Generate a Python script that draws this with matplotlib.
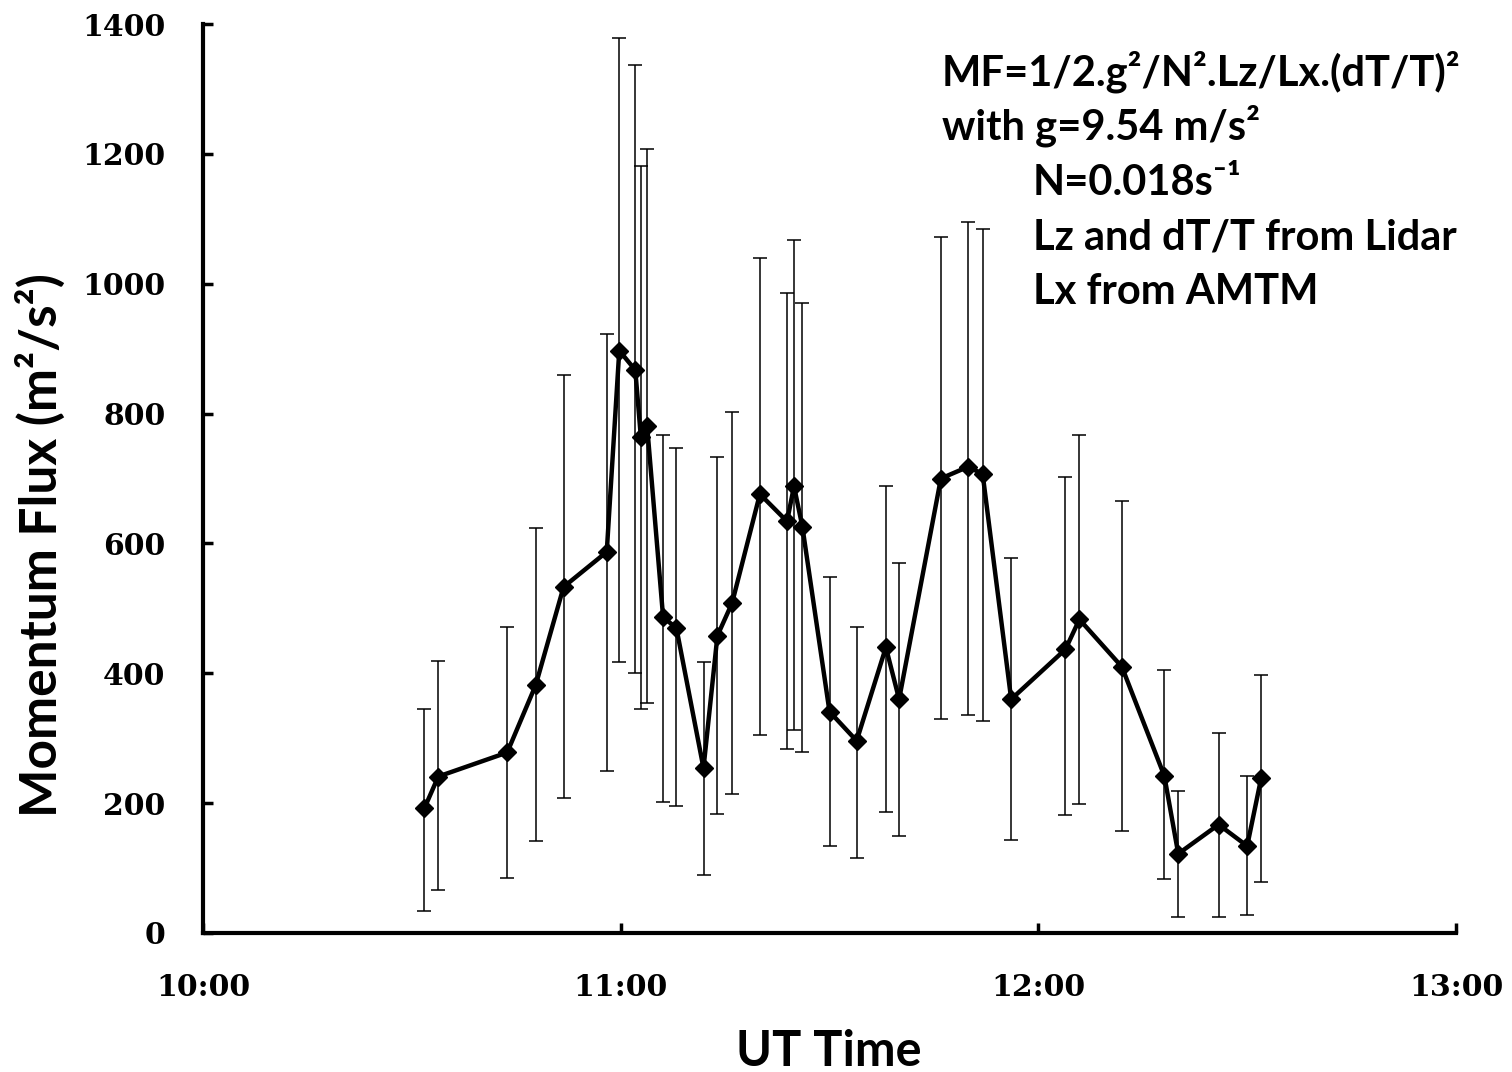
import matplotlib
matplotlib.use("Agg")
import matplotlib.pyplot as plt
import numpy as np

# time in minutes after 10:00 UT
time_min = [31.8, 33.8, 43.7, 47.8, 51.8, 58.0, 59.8, 62.1, 62.9, 63.8, 66.1, 68.0,
            71.9, 73.9, 76.0, 80.0, 83.9, 84.9, 86.1, 90.0, 93.9, 98.1, 100.0,
            106.0, 109.9, 112.0, 116.1, 123.9, 125.9, 132.0, 138.1, 140.1, 145.9,
            150.0, 152.0]
flux = [192, 241, 278, 382, 533, 587, 897, 867, 764, 781, 486, 470, 254, 458, 508,
        676, 634, 688, 626, 341, 296, 440, 360, 700, 718, 707, 360, 437, 483, 410,
        242, 122, 167, 134, 238]
flux_upper = [345, 419, 471, 623, 860, 922, 1379, 1337, 1181, 1208, 767, 747, 417,
              733, 802, 1040, 985, 1068, 970, 549, 472, 688, 570, 1072, 1095, 1084,
              578, 702, 767, 666, 405, 219, 308, 242, 397]
flux_lower = [34, 66, 85, 142, 208, 250, 417, 401, 345, 354, 202, 196, 90, 184, 214,
              305, 283, 312, 279, 134, 116, 186, 150, 329, 336, 326, 143, 182, 199,
              157, 83, 25, 25, 27, 78]
x_tick_labels = ["10:00", "11:00", "12:00", "13:00"]
y_ticks = [0, 200, 400, 600, 800, 1000, 1200, 1400]

t = np.array(time_min)
v = np.array(flux)
yerr = [v - np.array(flux_lower), np.array(flux_upper) - v]

W, H = 1512, 1072
fig = plt.figure(figsize=(W/100, H/100), dpi=100)
ax = fig.add_axes([203/W, 1 - 933/H, (1456 - 203)/W, (933 - 24)/H])

ax.errorbar(t, v, yerr=yerr, fmt='none', ecolor='black', elinewidth=1.1,
            capsize=5, capthick=1.1, zorder=2)
ax.plot(t, v, color='black', lw=3.2, marker='D', ms=9.5, zorder=3)

ax.set_xlim(0, 180)
ax.set_ylim(0, 1400)
ax.set_xticks([0, 60, 120, 180])
ax.set_xticklabels(x_tick_labels)
ax.set_yticks(y_ticks)

for s in ['top', 'right']:
    ax.spines[s].set_visible(False)
for s in ['left', 'bottom']:
    ax.spines[s].set_linewidth(3)

ax.tick_params(axis='both', direction='in', length=7, width=2.5)
ax.tick_params(axis='y', pad=27)
ax.tick_params(axis='x', pad=29)
for lab in ax.get_yticklabels() + ax.get_xticklabels():
    lab.set_fontfamily('DejaVu Serif')
    lab.set_fontweight('bold')
    lab.set_fontsize(21.5)

lab_fam = ['Lato', 'DejaVu Sans']
fig.text(41/W, 1 - 545/H, "Momentum Flux (m\u00b2/s\u00b2)", rotation=90,
         family=lab_fam, weight='bold', fontsize=37, ha='center', va='center')
fig.text(829/W, 1 - 1052/H, "UT Time", family=lab_fam, weight='bold',
         fontsize=35, ha='center', va='center')

ann_fs = 30
ann_lines = [(942, 72, "MF=1/2.g\u00b2/N\u00b2.Lz/Lx.(dT/T)\u00b2"),
             (942, 126, "with g=9.54 m/s\u00b2"),
             (1033, 183, "N=0.018s\u207b\u00b9"),
             (1033, 237, "Lz and dT/T from Lidar"),
             (1033, 292, "Lx from AMTM")]
for px, py, txt in ann_lines:
    fig.text(px/W, 1 - py/H, txt, family=lab_fam, weight='bold',
             fontsize=ann_fs, ha='left', va='center')

fig.savefig("out.png", dpi=100)
